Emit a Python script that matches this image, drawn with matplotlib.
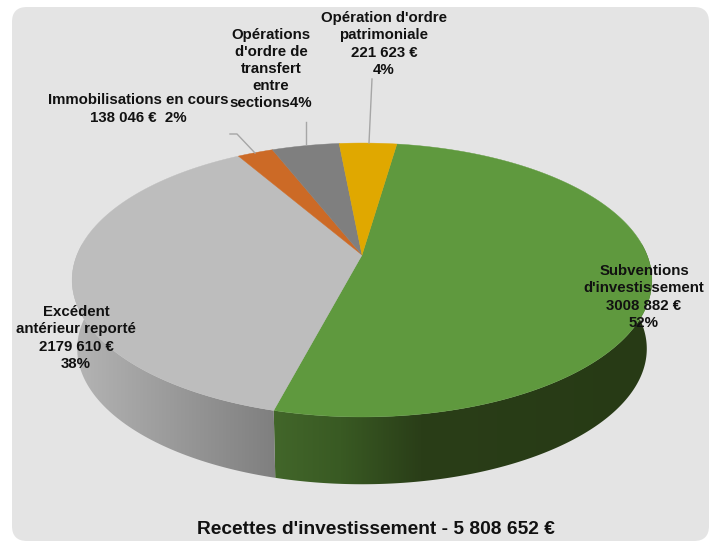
import numpy as np
import matplotlib
matplotlib.use('Agg')
import matplotlib.pyplot as plt
from matplotlib.patches import FancyBboxPatch, Polygon
from matplotlib.colors import to_rgb

plt.rcParams['font.family'] = ['Liberation Sans', 'DejaVu Sans']

# clockwise from the first slice
categories = ['Subventions', 'Excedent', 'Immobilisations', 'Transfert', 'Patrimoniale']
values = [3008882, 2179610, 138046, 260491, 221623]
top_colors = ['#5f993e', '#bdbdbd', '#cc6a26', '#7f7f7f', '#e0a800']
labels = [
    "Subventions\nd'investissement\n3008 882 €\n52%",
    "Excédent\nantérieur reporté\n2179 610 €\n38%",
    "Immobilisations en cours\n138 046 €  2%",
    "Opérations\nd'ordre de\ntransfert\nentre\nsections4%",
    "Opération d'ordre\npatrimoniale\n221 623 €\n4%",
]
label_pos = [(644, 297), (76, 338), (138, 109), (271, 69), (384, 44)]
title = "Recettes d'investissement - 5 808 652 €"

# wall colours, by pixel x
wall_stops = {
    0: ([275, 340, 420, 650], ['#42662a', '#395a23', '#2a3e18', '#273a15']),
    1: ([75, 275], ['#b4b4b4', '#7f7f7f']),
}

start = 8.3
cx = 362
k = 0.1825


def project(theta, cy, A, B):
    # circle seen in perspective, theta clockwise from the top
    t = np.radians(theta)
    X, Y = np.sin(t), np.cos(t)
    w = 1 + k * Y
    return cx + A * X / w, cy - B * Y / w


fig = plt.figure(figsize=(7.19, 5.47), dpi=100)
ax = fig.add_axes([0, 0, 1, 1])

bg = FancyBboxPatch((27, 22), 667, 504, boxstyle='round,pad=15,rounding_size=15',
                    fc='#e4e4e4', ec='none', zorder=0)
ax.add_patch(bg)

sizes = np.array(values) / sum(values) * 360
edges = start + np.concatenate([[0], np.cumsum(sizes)])

# side walls first, only the part that faces us
for i in wall_stops:
    stop_x, stop_c = wall_stops[i]
    rgb = np.array([to_rgb(c) for c in stop_c])
    px = np.arange(719)
    grad = np.stack([np.interp(px, stop_x, rgb[:, n]) for n in range(3)], axis=1)[None, :, :]
    th = np.linspace(max(edges[i], 85), min(edges[i + 1], 275), 300)
    x1, y1 = project(th, 255, 285, 132.4)
    x2, y2 = project(th, 324, 280, 131)
    poly = Polygon(np.c_[np.r_[x1, x2[::-1]], np.r_[y1, y2[::-1]]], closed=True,
                   transform=ax.transData, fc='none', ec='none')
    ax.add_patch(poly)
    im = ax.imshow(grad, extent=(0, 719, 547, 0), aspect='auto', zorder=1)
    im.set_clip_path(poly)

# top face
for i in range(len(values)):
    th = np.linspace(edges[i], edges[i + 1], 200)
    x, y = project(th, 255, 285, 132.4)
    ax.fill(np.r_[cx, x], np.r_[255, y], fc=top_colors[i], ec=top_colors[i], lw=0.3, zorder=2)

# leader lines
ax.plot([369, 372], [143, 79], color='#a6a6a6', lw=1, zorder=3)
ax.plot([306, 306], [144, 122], color='#a6a6a6', lw=1, zorder=3)
ax.plot([255, 237, 230], [153, 134, 134], color='#a6a6a6', lw=1, zorder=3)

for lab, (lx, ly) in zip(labels, label_pos):
    ax.text(lx, ly, lab, ha='center', va='center', fontsize=10.8, fontweight='bold',
            color='#111111', linespacing=1.28, zorder=4)

ax.text(375.5, 529, title, ha='center', va='center', fontsize=13.8, fontweight='bold',
        color='#111111', zorder=4)

ax.set_xlim(0, 719)
ax.set_ylim(547, 0)
ax.axis('off')

fig.savefig('out.png', dpi=100)
